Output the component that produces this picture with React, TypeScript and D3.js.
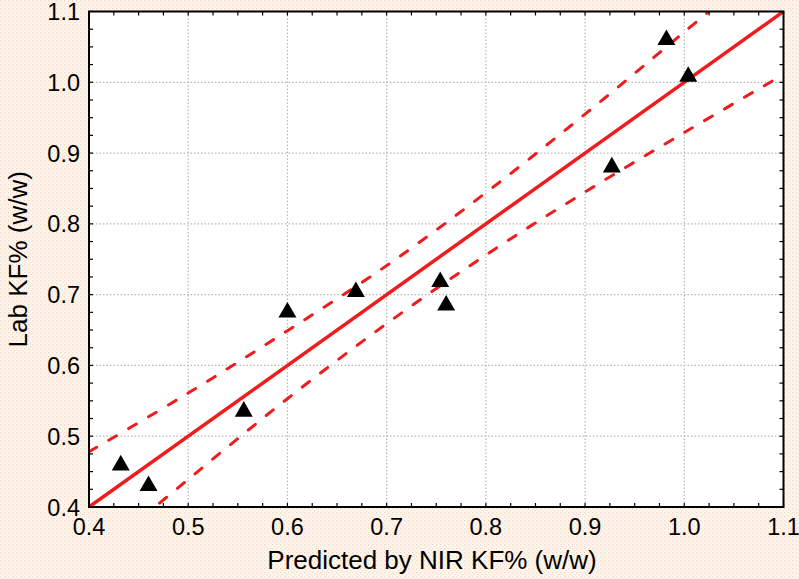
import React from "react";
import * as d3 from "d3";

const predicted = [0.432, 0.46, 0.556, 0.6, 0.669, 0.754, 0.76, 0.927, 0.982, 1.004];
const lab = [0.459, 0.43, 0.535, 0.675, 0.704, 0.718, 0.685, 0.88, 1.06, 1.008];

const fitX = [0.4, 1.1];
const fitY = [0.4, 1.1];

const bandX = [0.4, 0.5, 0.6, 0.7, 0.8, 0.9, 1.0, 1.1];
const upperBand = [0.478, 0.561, 0.649, 0.741, 0.844, 0.955, 1.071, 1.189];
const lowerBand = [0.322, 0.439, 0.553, 0.659, 0.756, 0.845, 0.929, 1.011];

const tickValues = [0.4, 0.5, 0.6, 0.7, 0.8, 0.9, 1.0, 1.1];

const W = 799, H = 579;
const L = 89, R = 783.5, T = 11.5, B = 507;

export default function App() {
  const x = d3.scaleLinear().domain([0.4, 1.1]).range([L, R]);
  const y = d3.scaleLinear().domain([0.4, 1.1]).range([B, T]);
  const minor = d3.range(0.4, 1.1001, 0.025);
  const line = d3.line<[number, number]>().x(d => x(d[0])).y(d => y(d[1])).curve(d3.curveCatmullRom);
  const tri = d3.symbol().type(d3.symbolTriangle).size(140)();
  const fmt = d3.format(".1f");
  const font = "'Liberation Sans', Arial, Helvetica, sans-serif";
  return (
    <svg width={W} height={H} style={{ position: "absolute", left: 0, top: 0 }} fontFamily={font}>
      <defs>
        <pattern id="bgdots" width="4" height="4" patternUnits="userSpaceOnUse">
          <rect width="4" height="4" fill="#fdf7e9" />
          <rect x="0" y="0" width="1.3" height="1.3" fill="#f3d6d2" />
          <rect x="2" y="2" width="1.3" height="1.3" fill="#f6e2da" />
        </pattern>
        <clipPath id="plotclip">
          <rect x={L} y={T} width={R - L} height={B - T} />
        </clipPath>
      </defs>
      <rect width={W} height={H} fill="url(#bgdots)" />
      <rect x={L} y={T} width={R - L} height={B - T} fill="#ffffff" />
      {tickValues.slice(1, -1).map(v => (
        <g key={"g" + v}>
          <line x1={x(v)} x2={x(v)} y1={T} y2={B} stroke="#b8b8b8" strokeWidth={1.2} strokeDasharray="1.5,2" />
          <line x1={L} x2={R} y1={y(v)} y2={y(v)} stroke="#b8b8b8" strokeWidth={1.2} strokeDasharray="1.5,2" />
        </g>
      ))}
      <g clipPath="url(#plotclip)">
        <path d={line(bandX.map((v, i) => [v, upperBand[i]]) as any) || ""} fill="none" stroke="#ee1c1c" strokeWidth={3} strokeDasharray="9,14" strokeLinecap="round" />
        <path d={line(bandX.map((v, i) => [v, lowerBand[i]]) as any) || ""} fill="none" stroke="#ee1c1c" strokeWidth={3} strokeDasharray="9,14" strokeLinecap="round" />
        <path d={line(fitX.map((v, i) => [v, fitY[i]]) as any) || ""} fill="none" stroke="#ee1c1c" strokeWidth={3.5} />
      </g>
      {predicted.map((v, i) => (
        <path key={"p" + i} d={tri || ""} transform={`translate(${x(v)},${y(lab[i])})`} fill="#000" />
      ))}
      {minor.map((v, i) => (
        <g key={"m" + i} stroke="#000" strokeWidth={1.2}>
          <line x1={x(v)} x2={x(v)} y1={B} y2={B - 4} />
          <line x1={x(v)} x2={x(v)} y1={T} y2={T + 4} />
          <line x1={L} x2={L + 4} y1={y(v)} y2={y(v)} />
          <line x1={R} x2={R - 4} y1={y(v)} y2={y(v)} />
        </g>
      ))}
      <rect x={L} y={T} width={R - L} height={B - T} fill="none" stroke="#000" strokeWidth={2} />
      {tickValues.map(v => (
        <text key={"xt" + v} x={x(v)} y={535} textAnchor="middle" fontSize={23.5} fill="#000">{fmt(v)}</text>
      ))}
      {tickValues.map(v => (
        <text key={"yt" + v} x={80} y={y(v) + 8.5} textAnchor="end" fontSize={23.5} fill="#000">{fmt(v)}</text>
      ))}
      <text x={432} y={569} textAnchor="middle" fontSize={26} fill="#000">Predicted by NIR KF% (w/w)</text>
      <text transform={`translate(27,${(T + B) / 2}) rotate(-90)`} textAnchor="middle" fontSize={26} fill="#000">Lab KF% (w/w)</text>
    </svg>
  );
}
